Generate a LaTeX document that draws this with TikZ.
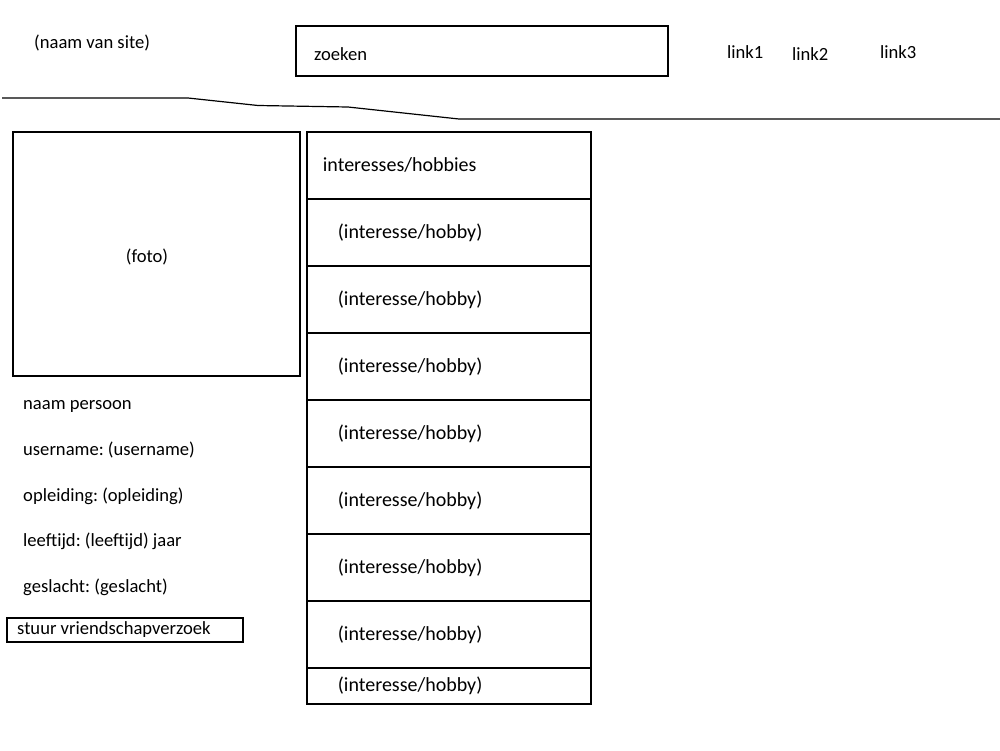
\documentclass[tikz,border=0pt]{standalone}
\usepackage{fontspec}
\setmainfont{Carlito}
\frenchspacing
\begin{document}
\begin{tikzpicture}[x=1pt,y=-1pt,
  box/.style={draw,line width=1.8pt,rectangle,inner sep=0pt},
  lbl/.style={font=\fontsize{18.6}{22}\selectfont,inner sep=0pt,anchor=west},
  cell/.style={draw,line width=1.8pt,rectangle,minimum width=284,minimum height=67,anchor=north west,font=\fontsize{20}{24}\selectfont,align=left,text width=284-62,inner xsep=30,inner ysep=0pt},
  hcell/.style={cell,text width=284-32,inner xsep=16}]
\useasboundingbox (0,0) rectangle (1000,750);
% header
\node[lbl] (site) at (34,43) {(naam van site)};
\node[box,minimum width=372,minimum height=50,anchor=north west] (search) at (295,25) {};
\node[lbl] (zoeken) at (314,54) {zoeken};
\node[lbl] (link1) at (727,52) {link1};
\node[lbl] (link2) at (792,54) {link2};
\node[lbl] (link3) at (880,52) {link3};
% divider
\coordinate (d0) at (2,98);
\coordinate (d1) at (188,98);
\coordinate (d2) at (258,105.5);
\coordinate (d3) at (348,107);
\coordinate (d4) at (459,119);
\coordinate (d5) at (1000,119);
\draw[line width=1.2pt] (d0) -- (d1) -- (d2) -- (d3) -- (d4) -- (d5);
% photo
\node[box,minimum width=287,minimum height=244,anchor=north west] (foto) at (12,131) {};
\node[lbl,anchor=center] (fototext) at (147,257) {(foto)};
% info
\node[lbl] (naam) at (23,406) {naam persoon};
\node[lbl] (user) at (23,450) {username: (username)};
\node[lbl] (opl) at (23,496) {opleiding: (opleiding)};
\node[lbl] (leef) at (23,541) {leeftijd: (leeftijd) jaar};
\node[lbl] (gesl) at (23,587) {geslacht: (geslacht)};
\node[box,minimum width=236,minimum height=24,anchor=north west] (btn) at (6,617) {};
\node[lbl] (btntext) at (17,630) {stuur vriendschapverzoek};
% interests column
\node[hcell] (h) at (306,131) {interesses/hobbies};
\node[cell] (c1) at (306,198) {(interesse/hobby)};
\node[cell] (c2) at (306,265) {(interesse/hobby)};
\node[cell] (c3) at (306,332) {(interesse/hobby)};
\node[cell] (c4) at (306,399) {(interesse/hobby)};
\node[cell] (c5) at (306,466) {(interesse/hobby)};
\node[cell] (c6) at (306,533) {(interesse/hobby)};
\node[cell] (c7) at (306,600) {(interesse/hobby)};
\node[cell,minimum height=36] (c8) at (306,667) {(interesse/hobby)};
\end{tikzpicture}
\end{document}
